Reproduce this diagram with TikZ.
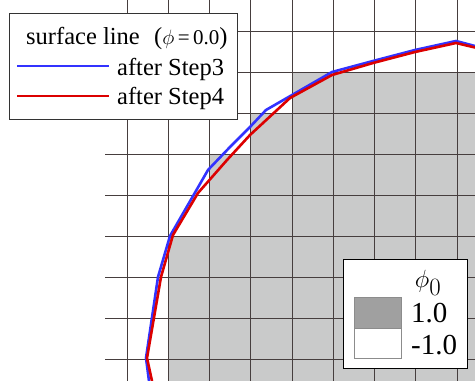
\documentclass[tikz,border=0pt]{standalone}
\usepackage{fontspec}
\setmainfont{Liberation Serif}
\definecolor{regiongray}{RGB}{201,202,202}
\definecolor{swatchgray}{RGB}{160,160,160}
\definecolor{gridcol}{RGB}{70,62,62}
\definecolor{bluethree}{RGB}{50,50,255}
\definecolor{redfour}{RGB}{220,0,0}
\begin{document}
\begin{tikzpicture}[x=1pt,y=-1pt,
  gridline/.style={draw=gridcol, line width=0.8pt},
  curveblue/.style={draw=bluethree, line width=2.6pt, line join=round},
  curvered/.style={draw=redfour, line width=2.6pt, line join=round},
  legbox/.style={draw=black!80, fill=white, line width=1.1pt, inner sep=0pt, anchor=north west},
  legtext/.style={inner sep=0pt, anchor=base west, font=\fontsize{24.5}{28}\selectfont},
  bigtext/.style={inner sep=0pt, anchor=base west, font=\fontsize{29}{33}\selectfont},
  swatch/.style={draw=black!45, line width=0.8pt, inner sep=0pt, anchor=north west, minimum width=47pt, minimum height=30.5pt}
]
\useasboundingbox (0,0) rectangle (475,381);
% gray region phi0 = 1.0
\fill[regiongray] (168,381) -- (168,236.5) -- (209.5,236.5) -- (209.5,154.3) -- (250.75,154.3)
  -- (250.75,113.2) -- (292,113.2) -- (292,72.1) -- (475,72.1) -- (475,381) -- cycle;
% grid
\foreach \k in {0,...,8} {
  \draw[gridline] (105,31+41.1*\k) -- (475,31+41.1*\k);
  \draw[gridline] (127+41.25*\k,0) -- (127+41.25*\k,381);
}
% surface lines
\draw[curveblue] (475,46) -- (456,41) -- (415,50) -- (373,61) -- (332,72) -- (266,110) -- (250,127)
  -- (230,147) -- (208,170) -- (170,236) -- (158,277) -- (146,358) -- (149,381);
\draw[curvered] (475,47.5) -- (456,43) -- (415,52) -- (373,63) -- (332,75) -- (290,98) -- (250,135)
  -- (227,160) -- (198,193) -- (173,235) -- (161,277) -- (147,358) -- (152,381);
% legend 1
\node[legbox, minimum width=228pt, minimum height=106pt] (leg1) at (9,13) {};
\node[legtext] (title) at (26,44) {surface line};
\node[legtext] (phieq) at (154,44) {({\fontsize{21}{24}\selectfont$\phi$\,=\,0.0})};
\coordinate (b1) at (17,66); \coordinate (b2) at (109,66);
\coordinate (r1) at (17,96); \coordinate (r2) at (109,96);
\draw[curveblue] (b1) -- (b2);
\draw[curvered] (r1) -- (r2);
\node[legtext] (s3) at (117,75) {after Step3};
\node[legtext] (s4) at (117,104) {after Step4};
% legend 2
\node[legbox, draw=black, line width=0.9pt, minimum width=124pt, minimum height=109pt] (leg2) at (343,259) {};
\node[inner sep=0pt, font=\fontsize{34}{38}\selectfont] (phi0) at (428,283) {$\phi_0$};
\node[swatch, fill=swatchgray] (sw1) at (354,297) {};
\node[swatch, fill=white] (sw2) at (354,327.5) {};
\node[bigtext] (v1) at (411,322) {1.0};
\node[bigtext] (v2) at (411,354) {-1.0};
\end{tikzpicture}
\end{document}
